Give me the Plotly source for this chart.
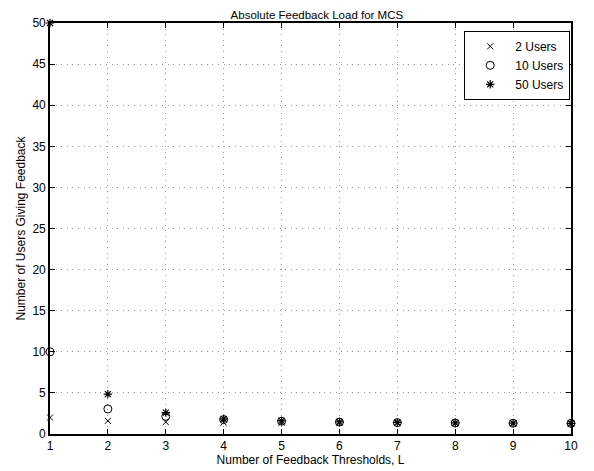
import plotly.graph_objects as go

L = [1, 2, 3, 4, 5, 6, 7, 8, 9, 10]
users2 = [2.0, 1.6, 1.45, 1.4, 1.38, 1.35, 1.33, 1.32, 1.31, 1.3]
users10 = [10.0, 3.05, 2.15, 1.75, 1.55, 1.45, 1.38, 1.34, 1.31, 1.29]
users50 = [50.0, 4.85, 2.6, 1.85, 1.6, 1.48, 1.41, 1.36, 1.32, 1.3]
names = ["2 Users", "10 Users", "50 Users"]
xticks = [1, 2, 3, 4, 5, 6, 7, 8, 9, 10]
yticks = [0, 5, 10, 15, 20, 25, 30, 35, 40, 45, 50]

FONT = "Liberation Sans, Arial, Helvetica, sans-serif"

fig = go.Figure()
fig.add_trace(go.Scatter(x=L, y=users2, mode="markers", name=names[0],
                         cliponaxis=False,
                         marker=dict(symbol="x-thin-open", size=6, color="black",
                                     line=dict(color="black", width=1))))
fig.add_trace(go.Scatter(x=L, y=users10, mode="markers", name=names[1],
                         cliponaxis=False,
                         marker=dict(symbol="circle-open", size=8, color="black",
                                     line=dict(color="black", width=1))))
fig.add_trace(go.Scatter(x=L, y=users50, mode="markers", name=names[2],
                         cliponaxis=False,
                         marker=dict(symbol="asterisk-open", size=7, color="black",
                                     line=dict(color="black", width=1.2))))

axis_common = dict(
    showline=True, linecolor="black", linewidth=1.6, mirror="ticks",
    ticks="inside", ticklen=5, tickcolor="black", tickwidth=1,
    showgrid=True, gridcolor="#999999", griddash="1px,4.6px", gridwidth=1,
    zeroline=False, tickfont=dict(family=FONT, size=12, color="black"),
    automargin=False,
)

fig.update_xaxes(range=[1, 10], tickvals=xticks, ticklabelstandoff=0,
                 title=dict(text="Number of Feedback Thresholds, L", standoff=0,
                            font=dict(family=FONT, size=12, color="black")),
                 **axis_common)
fig.update_yaxes(range=[0, 50], tickvals=yticks,
                 title=dict(text="Number of Users Giving Feedback", standoff=4,
                            font=dict(family=FONT, size=12, color="black")),
                 **axis_common)

# page body has an 8px default margin; compensate so the plot area lands at
# x 50..571, y 23..434 in the window
fig.update_layout(
    width=594, height=471,
    margin=dict(l=42, r=31, t=15, b=45),
    paper_bgcolor="white", plot_bgcolor="white",
    font=dict(family=FONT, size=12, color="black"),
    title=dict(text="Absolute Feedback Load for MCS", x=0.52, xanchor="center",
               y=0.993, yanchor="top", pad=dict(t=0, b=0),
               font=dict(family=FONT, size=11.5, color="black")),
    legend=dict(x=0.9985, y=0.981, xanchor="right", yanchor="top",
                bgcolor="white", bordercolor="black", borderwidth=1,
                font=dict(family=FONT, size=12, color="black"),
                tracegroupgap=0, itemwidth=40),
    showlegend=True,
)

fig.write_html("out.html")
